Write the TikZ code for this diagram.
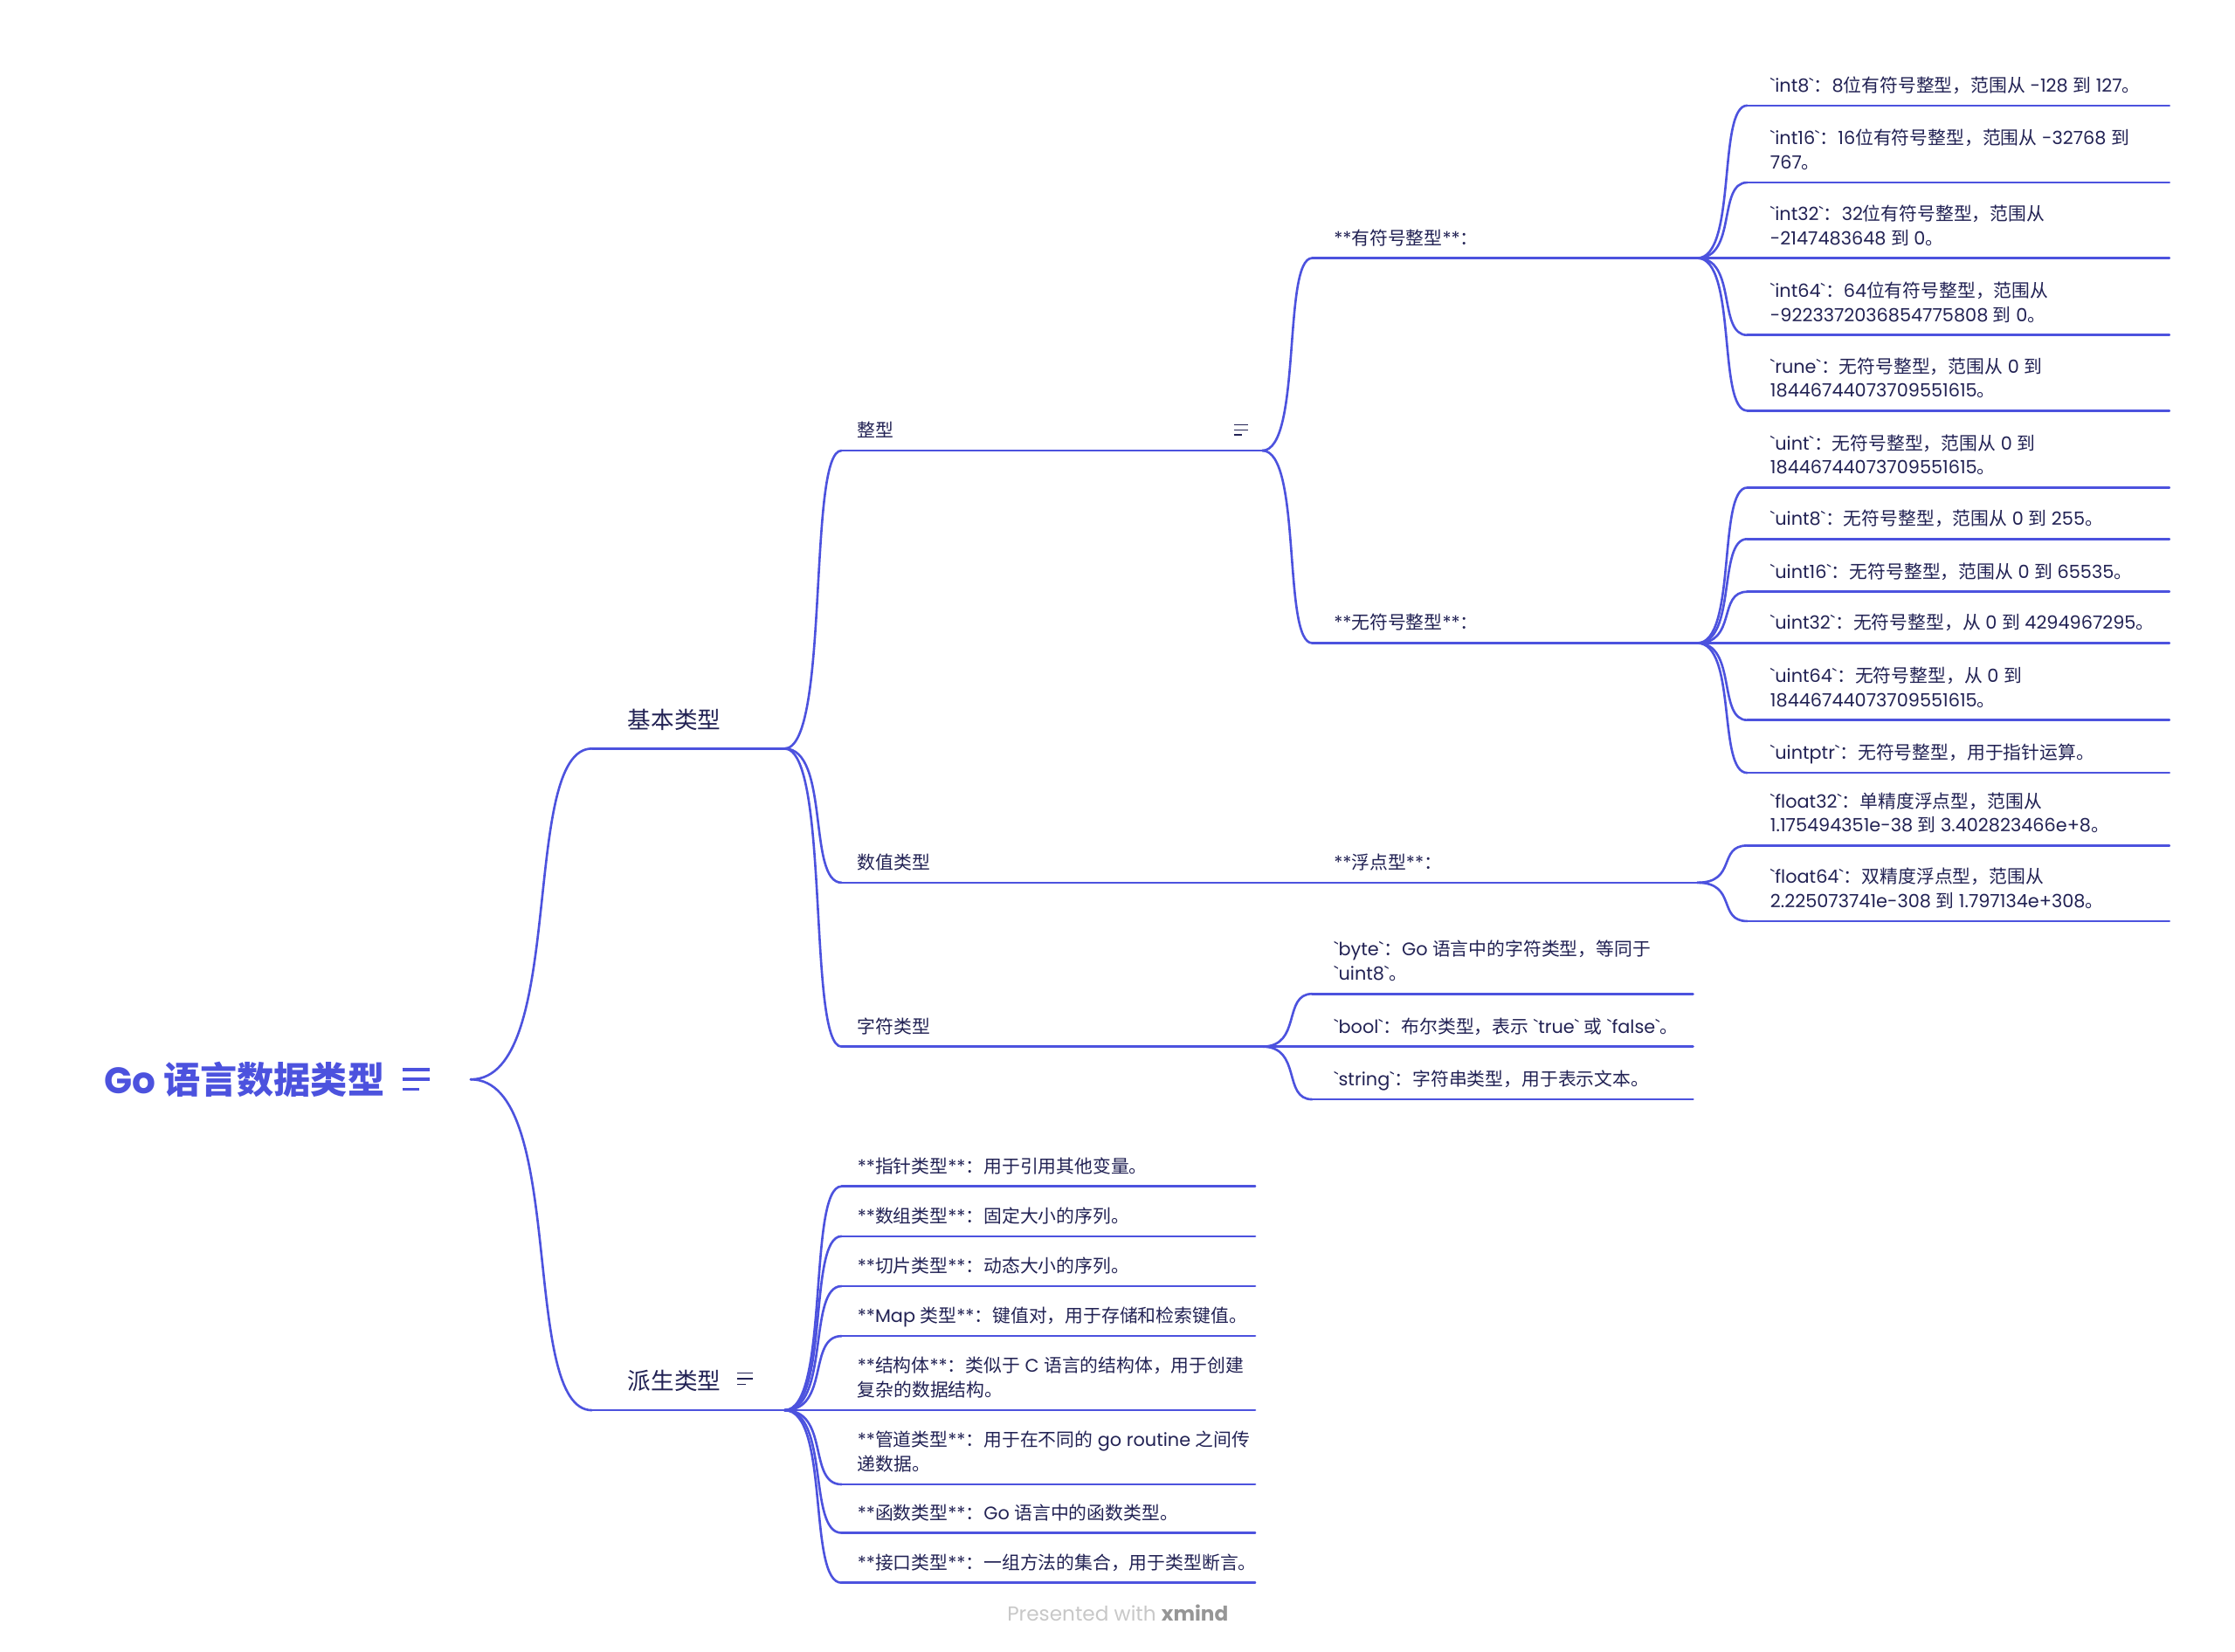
\documentclass[tikz,border=0pt]{standalone}
\usepackage{fontspec}
\usetikzlibrary{calc}
\newfontfamily\latfont{Poppins}
\newfontfamily\cjkfont{Noto Sans CJK SC}
\newXeTeXintercharclass\cjkclass
\newcount\cjkc
\def\setcjkrange#1#2{\cjkc=#1\relax\loop\XeTeXcharclass\cjkc=\cjkclass\advance\cjkc by 1\relax\ifnum\cjkc<#2\repeat}
\setcjkrange{"3000}{"3040}
\setcjkrange{"4E00}{"A000}
\setcjkrange{"FF00}{"FFF0}
\XeTeXinterchartoks 0 \cjkclass = {\cjkfont}
\XeTeXinterchartoks 4095 \cjkclass = {\cjkfont}
\XeTeXinterchartoks \cjkclass 0 = {\latfont}
\XeTeXinterchartoks \cjkclass 4095 = {\latfont}
\XeTeXinterchartokenstate=1
\definecolor{linec}{RGB}{76,82,222}
\definecolor{textc}{RGB}{34,34,84}
\definecolor{wmlight}{RGB}{200,200,200}
\definecolor{wmdark}{RGB}{150,150,150}
\def\strutd{\rule[-3.5pt]{0pt}{3.5pt}}
\newcommand\topic[8]{%
  \coordinate (#1-l) at (#3,#5);
  \coordinate (#1-r) at (#4,#5);
  \node[#2] (#1) at (#6,#5-#7) {#8\strutd};
  \draw[uline] (#1-l) -- (#1-r);
}
\begin{document}
\begin{tikzpicture}[x=1pt,y=-1pt,
  uline/.style={draw=linec, line width=1.6pt, line cap=round},
  branch/.style={uline, to path={.. controls ($(\tikztostart)!0.8!(\tikztotarget|-\tikztostart)$) and ($(\tikztostart|-\tikztotarget)!0.4!(\tikztotarget)$) .. (\tikztotarget)}},
  tx/.style={inner sep=0pt, anchor=south west, text=textc, align=left, font=\latfont\fontsize{12.75}{17}\selectfont},
  l1/.style={tx, font=\latfont\fontsize{16.3}{20}\selectfont},
  icon/.style={line width=0.9pt, draw=textc}]
\useasboundingbox (0,0) rectangle (1567,1158);
\fill[white] (0,0) rectangle (1567,1158);

% root
\node[inner sep=0pt, anchor=base west, text=linec, font=\latfont\bfseries\fontsize{25.8}{30}\selectfont] (root) at (73,767) {Go 语言数据类型};
\coordinate (root-r) at (330,757);
\draw[draw=linec, line width=2.2pt] (282,750) -- (301,750) (282,757) -- (301,757) (282,764) -- (294,764);

% level 1
\topic{jb}{l1}{415}{550}{525}{440}{10.5}{基本类型}
\topic{ps}{l1}{415}{550}{989}{440}{10.5}{派生类型}
\draw[icon] (517,963) -- (528,963) (517,967) -- (528,967) (517,971) -- (523,971);

% level 2 (basic)
\topic{zx}{tx}{590}{885}{316}{601}{5.8}{整型}
\draw[icon] (865,298) -- (875,298) (865,301.5) -- (875,301.5) (865,305) -- (871,305);
\topic{sz}{tx}{590}{885}{619}{601}{5.8}{数值类型}
\topic{zf}{tx}{590}{885}{734}{601}{5.8}{字符类型}

% level 3
\topic{ys}{tx}{920}{1190}{181}{935}{5.8}{**有符号整型**：}
\topic{ws}{tx}{920}{1190}{451}{935}{5.8}{**无符号整型**：}
\topic{fd}{tx}{920}{1190}{619}{935}{5.8}{**浮点型**：}
\topic{byte}{tx}{920}{1187}{697}{935}{5.8}{`byte`：Go 语言中的字符类型，等同于\\`uint8`。}
\topic{bool}{tx}{920}{1187}{734}{935}{5.8}{`bool`：布尔类型，表示 `true` 或 `false`。}
\topic{str}{tx}{920}{1187}{771}{935}{5.8}{`string`：字符串类型，用于表示文本。}

% level 4
\topic{int8}{tx}{1225}{1521}{74}{1241}{5.8}{`int8`：8位有符号整型，范围从 -128 到 127。}
\topic{int16}{tx}{1225}{1521}{128}{1241}{5.8}{`int16`：16位有符号整型，范围从 -32768 到\\767。}
\topic{int32}{tx}{1225}{1521}{181}{1241}{5.8}{`int32`：32位有符号整型，范围从\\-2147483648 到 0。}
\topic{int64}{tx}{1225}{1521}{235}{1241}{5.8}{`int64`：64位有符号整型，范围从\\-9223372036854775808 到 0。}
\topic{rune}{tx}{1225}{1521}{288}{1241}{5.8}{`rune`：无符号整型，范围从 0 到\\18446744073709551615。}
\topic{uint}{tx}{1225}{1521}{342}{1241}{5.8}{`uint`：无符号整型，范围从 0 到\\18446744073709551615。}
\topic{uint8}{tx}{1225}{1521}{378}{1241}{5.8}{`uint8`：无符号整型，范围从 0 到 255。}
\topic{uint16}{tx}{1225}{1521}{415}{1241}{5.8}{`uint16`：无符号整型，范围从 0 到 65535。}
\topic{uint32}{tx}{1225}{1521}{451}{1241}{5.8}{`uint32`：无符号整型，从 0 到 4294967295。}
\topic{uint64}{tx}{1225}{1521}{505}{1241}{5.8}{`uint64`：无符号整型，从 0 到\\18446744073709551615。}
\topic{uintptr}{tx}{1225}{1521}{542}{1241}{5.8}{`uintptr`：无符号整型，用于指针运算。}
\topic{f32}{tx}{1225}{1521}{593}{1241}{5.8}{`float32`：单精度浮点型，范围从\\1.175494351e-38 到 3.402823466e+8。}
\topic{f64}{tx}{1225}{1521}{646}{1241}{5.8}{`float64`：双精度浮点型，范围从\\2.225073741e-308 到 1.797134e+308。}

% level 2 (derived)
\topic{ptr}{tx}{590}{880}{832}{601}{5.8}{**指针类型**：用于引用其他变量。}
\topic{arr}{tx}{590}{880}{867}{601}{5.8}{**数组类型**：固定大小的序列。}
\topic{slc}{tx}{590}{880}{902}{601}{5.8}{**切片类型**：动态大小的序列。}
\topic{map}{tx}{590}{880}{937}{601}{5.8}{**Map 类型**：键值对，用于存储和检索键值。}
\topic{stc}{tx}{590}{880}{989}{601}{5.8}{**结构体**：类似于 C 语言的结构体，用于创建\\复杂的数据结构。}
\topic{chn}{tx}{590}{880}{1041}{601}{5.8}{**管道类型**：用于在不同的 go routine 之间传\\递数据。}
\topic{fun}{tx}{590}{880}{1075}{601}{5.8}{**函数类型**：Go 语言中的函数类型。}
\topic{ifc}{tx}{590}{880}{1110}{601}{5.8}{**接口类型**：一组方法的集合，用于类型断言。}

% connectors
\draw[branch] (root-r) to (jb-l);
\draw[branch] (root-r) to (ps-l);
\foreach \c in {zx,sz,zf} \draw[branch] (jb-r) to (\c-l);
\foreach \c in {ptr,arr,slc,map,stc,chn,fun,ifc} \draw[branch] (ps-r) to (\c-l);
\foreach \c in {ys,ws} \draw[branch] (zx-r) to (\c-l);
\draw[branch] (sz-r) to (fd-l);
\foreach \c in {byte,bool,str} \draw[branch] (zf-r) to (\c-l);
\foreach \c in {int8,int16,int32,int64,rune} \draw[branch] (ys-r) to (\c-l);
\foreach \c in {uint,uint8,uint16,uint32,uint64,uintptr} \draw[branch] (ws-r) to (\c-l);
\foreach \c in {f32,f64} \draw[branch] (fd-r) to (\c-l);

% watermark
\node[inner sep=0pt, anchor=base west, font=\latfont\fontsize{14.2}{17}\selectfont] (wm) at (706,1137) {\textcolor{wmlight}{Presented with} \textcolor{wmdark}{\bfseries xmind}};
\end{tikzpicture}
\end{document}
